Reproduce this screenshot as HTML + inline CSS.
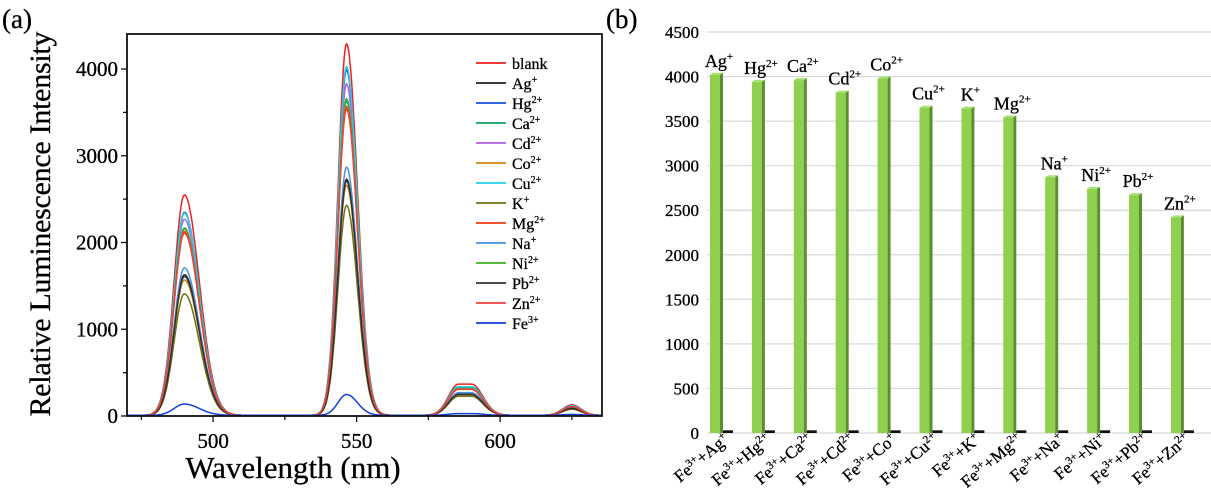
<!DOCTYPE html>
<html><head><meta charset="utf-8">
<style>
body{margin:0;background:#fff;}
svg{display:block;font-family:"Liberation Serif",serif;}
text{stroke:#000;stroke-width:0.3px;}
</style></head><body>
<svg id="chart" width="1211" height="490" viewBox="0 0 1211 490">
<rect width="1211" height="490" fill="#fff"/>
<text x="2" y="28" font-size="27">(a)</text>
<text x="606" y="28" font-size="27">(b)</text>
<g id="left"></g>
<g id="right"></g>
</svg>
<script>
// ---- Panel (a) data ----
const seriesNames = ["blank","Ag","Hg","Ca","Cd","Co","Cu","K","Mg","Na","Ni","Pb","Zn","Fe"];
const seriesSup = ["","+","2+","2+","2+","2+","2+","+","2+","+","2+","2+","2+","3+"];
const seriesColors = ["#f02020","#222222","#1550e0","#10a060","#b060e0","#d08810","#20d0e0","#707010","#f03a10","#4a90e0","#40b020","#303030","#f04040","#1040e0"];
const peakCenters = [490, 546.5, 585.5, 625];
const peak490 = [2540,1620,2340,2150,2260,1560,2330,1400,2100,1700,2160,1600,2120,130];
const peak546 = [4280,2720,3980,3620,3820,2650,4020,2420,3530,2860,3650,2700,3560,240];
const peak586 = [360,250,330,310,320,240,330,220,300,260,310,240,300,20];
const peak622 = [120,80,110,100,100,80,110,70,100,90,100,80,100,10];
const xTicks = [500,550,600];
const yTicks = [0,1000,2000,3000,4000];

// ---- Panel (b) data ----
const barCats = ["Ag","Hg","Ca","Cd","Co","Cu","K","Mg","Na","Ni","Pb","Zn"];
const barSup = ["+","2+","2+","2+","2+","2+","+","2+","+","2+","2+","2+"];
const catSup = ["+","2+","2+","2+","+","2+","+","2+","+","+","2+","2+"];
const barValues = [4020,3940,3960,3820,3980,3650,3640,3540,2870,2740,2670,2420];
const feValues = [30,30,30,30,30,30,30,30,30,30,30,30];
const barTicks = [0,500,1000,1500,2000,2500,3000,3500,4000,4500];

const NS="http://www.w3.org/2000/svg";
function mk(tag,attrs,parent){const e=document.createElementNS(NS,tag);for(const k in attrs)e.setAttribute(k,attrs[k]);parent.appendChild(e);return e;}

// ---- Panel (a) ----
const L=document.getElementById('left');
const ax={x0:127,x1:602,y0:416,yTop:34,xmin:470,xmax:635.5};
const xs=v=>ax.x0+(v-ax.xmin)/(ax.xmax-ax.xmin)*(ax.x1-ax.x0);
const ys=v=>ax.y0-v*(416-69)/4000;
function shape(w,i){
  const g=(c,sl,sr)=>{const s=w<c?sl:sr;return Math.exp(-0.5*((w-c)/s)**2);};
  return peak490[i]*g(peakCenters[0],3.6,5.2)+peak546[i]*g(peakCenters[1],3.0,3.8)
   +peak586[i]*(w<peakCenters[2]?g(peakCenters[2],3.5,1):(w<590?1:g(590,1,4)))+peak622[i]*g(peakCenters[3],3.2,3.2)+8;
}
const cp=mk('clipPath',{id:'cpL'},L);mk('rect',{x:ax.x0,y:ax.yTop,width:ax.x1-ax.x0,height:ax.y0-ax.yTop},cp);
const gS=mk('g',{'clip-path':'url(#cpL)'},L);
for(let i=0;i<seriesNames.length;i++){
  let d="";
  for(let w=ax.xmin;w<=ax.xmax;w+=0.25){d+=(d?"L":"M")+xs(w).toFixed(1)+","+ys(shape(w,i)).toFixed(1);}
  const p=mk('path',{d:d,fill:'none',stroke:seriesColors[i],'stroke-width':1.5},gS);
  
  
}
const fr=mk('rect',{x:ax.x0,y:ax.yTop,width:ax.x1-ax.x0,height:ax.y0-ax.yTop,fill:'none',stroke:'#111','stroke-width':1.8},L);


for(let v=475;v<=630;v+=25){mk('line',{x1:xs(v),x2:xs(v),y1:ax.y0,y2:ax.y0+(v%50===0?6:4),stroke:'#111','stroke-width':1.3},L);}
xTicks.forEach(v=>{const t=mk('text',{x:xs(v),y:448,'font-size':21,'text-anchor':'middle'},L);t.textContent=v;
 });
for(let v=0;v<=4000;v+=500){mk('line',{x1:ax.x0,x2:ax.x0-(v%1000===0?6:4),y1:ys(v),y2:ys(v),stroke:'#111','stroke-width':1.3},L);}
yTicks.forEach(v=>{const t=mk('text',{x:118,y:ys(v)+7,'font-size':21,'text-anchor':'end'},L);t.textContent=v;
 });
const xt=mk('text',{x:293,y:478,'font-size':31,'text-anchor':'middle'},L);xt.textContent="Wavelength (nm)";

const yt=mk('text',{x:0,y:0,'font-size':30,'text-anchor':'middle',textLength:385,transform:'translate(50,224) rotate(-90)'},L);yt.textContent="Relative Luminescence Intensity";

for(let i=0;i<seriesNames.length;i++){
  const y=63+i*20;
  const g=mk('g',{},L);
  
  
  mk('line',{x1:476,x2:506,y1:y,y2:y,stroke:seriesColors[i],'stroke-width':1.8},g);
  const t=mk('text',{x:512,y:y+6,'font-size':16},g);
  t.textContent=seriesNames[i];
  if(seriesSup[i]){const s=mk('tspan',{'font-size':10,dy:-6},t);s.textContent=seriesSup[i];}
}

// ---- Panel (b) ----
const R=document.getElementById('right');
const by=v=>433-v*(433-32)/4500;
const bx=i=>710+i*41.9;
barTicks.forEach(v=>{
  const l=mk('line',{x1:707,x2:1211,y1:by(v),y2:by(v),stroke:'#d8d8d8','stroke-width':1.2},R);
  
  const t=mk('text',{x:699,y:by(v)+6,'font-size':17,'text-anchor':'end'},R);t.textContent=v;
  
});
for(let i=0;i<barCats.length;i++){
  const x=bx(i),yT=by(barValues[i]);
  const g=mk('g',{},R);
  
  
  mk('rect',{x:x,y:yT,width:10,height:433-yT,fill:'#8fd14f'},g);
  mk('polygon',{points:`${x+10},${yT} ${x+13},${yT-2} ${x+13},433 ${x+10},433`,fill:'#5a8f2e'},g);
  mk('polygon',{points:`${x},${yT} ${x+3},${yT-2} ${x+13},${yT-2} ${x+10},${yT}`,fill:'#a6e070'},g);
  const fh=433-by(feValues[i]);
  const fb=mk('rect',{x:x+13,y:433-Math.min(fh,4),width:10,height:Math.min(fh,4),fill:'#111'},R);
  
  const lb=mk('text',{x:x+9,y:yT-8,'font-size':18,'text-anchor':'middle'},R);
  lb.textContent=barCats[i];
  const s=mk('tspan',{'font-size':11,dy:-7},lb);s.textContent=barSup[i];
  
  const cl=mk('text',{x:0,y:0,'font-size':17,'text-anchor':'end',transform:`translate(${x+20},${441}) rotate(-40)`},R);
  cl.appendChild(document.createTextNode('Fe'));
  const s1=mk('tspan',{'font-size':11,dy:-6},cl);s1.textContent='3+';
  const s2=mk('tspan',{dy:6},cl);s2.textContent='+'+barCats[i];
  const s3=mk('tspan',{'font-size':11,dy:-6},cl);s3.textContent=catSup[i];
  
}
</script>
</body></html>
